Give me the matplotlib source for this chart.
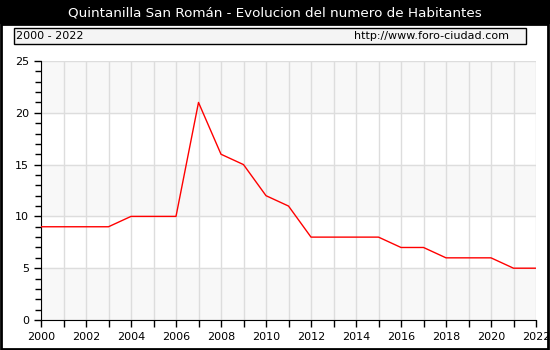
import matplotlib.pyplot as plt
from matplotlib.patches import Rectangle
from matplotlib.ticker import MultipleLocator

years = list(range(2000, 2023))
habitantes = [9, 9, 9, 9, 10, 10, 10, 21, 16, 15, 12, 11, 8, 8, 8, 8, 7, 7, 6, 6, 6, 5, 5]

W, H = 550, 350
fig = plt.figure(figsize=(W / 100, H / 100), dpi=100)
fig.patch.set_facecolor("white")

# title band and outer frame
fig.patches.append(Rectangle((0, 1 - 24 / H), 1, 24 / H, transform=fig.transFigure,
                             facecolor="black", edgecolor="none", zorder=0))
fig.patches.append(Rectangle((1 / W, 1 / H), 1 - 3 / W, 1 - 25 / H, transform=fig.transFigure,
                             facecolor="none", edgecolor="black", linewidth=2, zorder=1))
fig.text(0.5, 1 - 12.5 / H, "Quintanilla San Román - Evolucion del numero de Habitantes",
         color="white", ha="center", va="center", fontsize=9.7)

# subtitle box
fig.patches.append(Rectangle((14 / W, 1 - 44 / H), 512 / W, 16 / H, transform=fig.transFigure,
                             facecolor="#f4f4f4", edgecolor="black", linewidth=1, zorder=1))
fig.text(16 / W, 1 - 36 / H, "2000 - 2022", ha="left", va="center", fontsize=8)
fig.text(509 / W, 1 - 36 / H, "http://www.foro-ciudad.com", ha="right", va="center", fontsize=8)

ax = fig.add_axes([41 / W, 30 / H, 495 / W, 259 / H])
ax.set_xlim(2000, 2022)
ax.set_ylim(0, 25)
for lo in (0, 10, 20):
    ax.axhspan(lo, lo + 5, color="#f8f8f8", zorder=0)
ax.xaxis.set_major_locator(MultipleLocator(2))
ax.xaxis.set_minor_locator(MultipleLocator(1))
ax.yaxis.set_major_locator(MultipleLocator(5))
ax.yaxis.set_minor_locator(MultipleLocator(1))
ax.grid(True, which="major", axis="y", color="#dddddd", linewidth=1, zorder=1)
ax.grid(True, which="both", axis="x", color="#dddddd", linewidth=1, zorder=1)
ax.set_axisbelow(True)
ax.plot(years, habitantes, color="red", linewidth=1, zorder=3)

for side in ("top", "right"):
    ax.spines[side].set_visible(False)
ax.tick_params(which="both", direction="out", labelsize=8, width=1)
ax.tick_params(which="major", length=5)
ax.tick_params(axis="x", which="minor", length=5)
ax.tick_params(axis="y", which="minor", length=4)

plt.savefig("out.png", dpi=100)
